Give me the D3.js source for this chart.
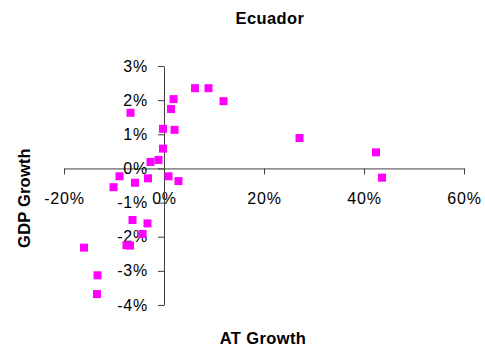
<!DOCTYPE html>
<html>
<head>
<meta charset="utf-8">
<script src="https://cdn.jsdelivr.net/npm/d3@7"></script>
<style>
  html, body { margin: 0; padding: 0; background: #fff; }
  svg { display: block; font-family: "Liberation Sans", Arial, sans-serif; }
</style>
</head>
<body>
<svg id="chart" width="485" height="352"></svg>
<script>
const title = "Ecuador";
const xTitle = "AT Growth";
const yTitle = "GDP Growth";
// AT growth (%) and GDP growth (%) pairs
const atGrowth  = [6.2, 8.9, 1.9, 11.9, 1.4, -6.7, -0.2, 2.1, 27.1, -0.2, 42.4, -1.1, -2.7, -8.9, -3.2, 0.9, 2.9, -5.8, -10.1, 43.6, -6.3, -3.3, -4.3, -7.5, -6.8, -16.0, -13.3, -13.4];
const gdpGrowth = [2.35, 2.35, 2.03, 1.97, 1.74, 1.63, 1.16, 1.13, 0.89, 0.58, 0.47, 0.25, 0.19, -0.23, -0.29, -0.23, -0.37, -0.42, -0.55, -0.27, -1.51, -1.61, -1.92, -2.25, -2.26, -2.32, -3.13, -3.68];
const xTicks = [-20, 0, 20, 40, 60];
const yTicks = [-4, -3, -2, -1, 0, 1, 2, 3];

const svg = d3.select("#chart");
const x = d3.scaleLinear().domain([-20, 60]).range([64, 464]);
const y = d3.scaleLinear().domain([-4, 3]).range([305, 66]);
const fmt = d => d + "%";
const axisColor = "#404040";

// X axis at y = 0
const gx = svg.append("g")
  .attr("transform", `translate(0,${y(0)})`)
  .call(d3.axisBottom(x).tickValues(xTicks).tickFormat(fmt).tickSize(6).tickPadding(18).tickSizeOuter(0));
// Y axis at x = 0
const gy = svg.append("g")
  .attr("transform", `translate(${x(0)},0)`)
  .call(d3.axisLeft(y).tickValues(yTicks).tickFormat(fmt).tickSize(6).tickPadding(10).tickSizeOuter(0));

[gx, gy].forEach(g => {
  g.select(".domain").attr("stroke", axisColor).attr("stroke-width", 1);
  g.selectAll(".tick line").attr("stroke", axisColor);
  g.selectAll(".tick text").attr("fill", "#000").style("font-size", "16px")
    .style("letter-spacing", "0.8px")
    .style("font-family", "'Liberation Sans', Arial, sans-serif");
});

// Points
const s = 8;
svg.append("g").selectAll("rect")
  .data(atGrowth.map((a, i) => ({ a, g: gdpGrowth[i] })))
  .join("rect")
  .attr("x", d => x(d.a) - s / 2)
  .attr("y", d => y(d.g) - s / 2)
  .attr("width", s)
  .attr("height", s)
  .attr("fill", "#ff00ff");

// Titles
svg.append("text").attr("x", 270).attr("y", 24).attr("text-anchor", "middle")
  .style("font-size", "16.5px").style("font-weight", "bold").style("letter-spacing", "0.4px").text(title);
svg.append("text").attr("x", 263).attr("y", 344).attr("text-anchor", "middle")
  .style("font-size", "16.5px").style("font-weight", "bold").style("letter-spacing", "0.4px").text(xTitle);
svg.append("text").attr("transform", "translate(30,198) rotate(-90)").attr("text-anchor", "middle")
  .style("font-size", "16.5px").style("font-weight", "bold").style("letter-spacing", "0.2px").text(yTitle);
</script>
</body>
</html>
